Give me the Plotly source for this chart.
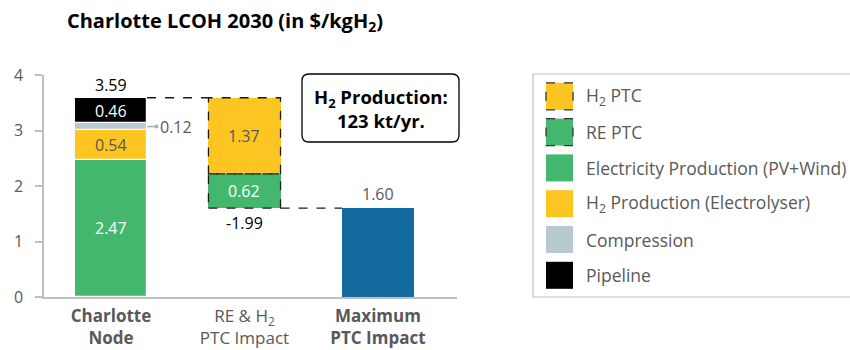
import plotly.graph_objects as go

# ---- data -------------------------------------------------------------
tick_labels = ["<b>Charlotte<br>Node</b>", "RE & H<sub>2</sub><br>PTC Impact", "<b>Maximum<br>PTC Impact</b>"]

node_components = ["Electricity Production (PV+Wind)", "H<sub>2</sub> Production (Electrolyser)",
                   "Compression", "Pipeline"]
node_values = [2.47, 0.54, 0.12, 0.46]

ptc_components = ["RE PTC", "H<sub>2</sub> PTC"]
ptc_values = [0.62, 1.37]

legend_labels = ["H<sub>2</sub> PTC", "RE PTC", "Electricity Production (PV+Wind)",
                 "H<sub>2</sub> Production (Electrolyser)", "Compression", "Pipeline"]

production_note = "H<sub>2</sub> Production:<br>123 kt/yr."

# ---- styling ----------------------------------------------------------
GREEN = "#43B76E"
YELLOW = "#FDC521"
GREY = "#B8C9CF"
BLACK = "#000000"
BLUE = "#136A9F"
TEXT = "#595959"
FONT = "Open Sans"

node_colors = [GREEN, YELLOW, GREY, BLACK]
node_text_colors = ["white", TEXT, None, "white"]
ptc_colors = [GREEN, YELLOW]
ptc_text_colors = ["white", TEXT]

BAR_W = 0.54
HALF = BAR_W / 2

total = sum(node_values)
impact = sum(ptc_values)
max_ptc = total - impact

# plot-area geometry in pixels (used to place paper-referenced items)
L, R, T, B = 44, 457, 75, 297
W, H = 850, 350


def px(x):
    return (x - L) / (R - L)


def py(y):
    return (B - y) / (B - T)


fig = go.Figure()
shapes = []
annotations = []

# Charlotte node stacked bar
base = 0.0
for name, v, c, tc in zip(node_components, node_values, node_colors, node_text_colors):
    fig.add_trace(go.Bar(x=[0], y=[v], base=[base], width=BAR_W, name=name,
                         marker=dict(color=c, line=dict(color="white", width=1.2)),
                         showlegend=False, hoverinfo="skip"))
    if tc is not None:
        annotations.append(dict(x=0, y=base + v / 2, text=f"{v:.2f}", showarrow=False,
                                font=dict(size=16, color=tc, family=FONT)))
    else:
        mid = base + v / 2
        shapes.append(dict(type="line", xref="x", yref="y", x0=HALF, x1=HALF + 0.07,
                           y0=mid, y1=mid, line=dict(color="#9FB3BA", width=1.5)))
        fig.add_trace(go.Scatter(x=[HALF + 0.07], y=[mid], mode="markers",
                                 marker=dict(size=4, color="#9FB3BA"),
                                 showlegend=False, hoverinfo="skip", cliponaxis=False))
        annotations.append(dict(x=HALF + 0.085, y=mid, text=f"{v:.2f}", showarrow=False,
                                xanchor="left", font=dict(size=16, color=TEXT, family=FONT)))
    base += v

annotations.append(dict(x=0, y=total, text=f"{total:.2f}", showarrow=False, yanchor="bottom",
                        yshift=0, font=dict(size=16, color="black", family=FONT)))

# PTC impact floating bar
base = max_ptc
for name, v, c, tc in zip(ptc_components, ptc_values, ptc_colors, ptc_text_colors):
    fig.add_trace(go.Bar(x=[1], y=[v], base=[base], width=BAR_W, name=name,
                         marker=dict(color=c, line=dict(width=0)),
                         showlegend=False, hoverinfo="skip"))
    shapes.append(dict(type="rect", xref="x", yref="y", x0=1 - HALF, x1=1 + HALF,
                       y0=base, y1=base + v, line=dict(color="#1a1a1a", width=1.3, dash="dash"),
                       layer="above"))
    annotations.append(dict(x=1, y=base + v / 2, text=f"{v:.2f}", showarrow=False,
                            font=dict(size=16, color=tc, family=FONT)))
    base += v

annotations.append(dict(x=1, y=max_ptc, text=f"-{impact:.2f}", showarrow=False, yanchor="top",
                        yshift=-2, font=dict(size=16, color="black", family=FONT)))

# Maximum PTC impact bar
fig.add_trace(go.Bar(x=[2], y=[max_ptc], width=BAR_W, marker=dict(color=BLUE, line=dict(width=0)),
                     showlegend=False, hoverinfo="skip"))
annotations.append(dict(x=2, y=max_ptc, text=f"{max_ptc:.2f}", showarrow=False, yanchor="bottom",
                        yshift=1, font=dict(size=16, color=TEXT, family=FONT)))

# dashed connectors
shapes.append(dict(type="line", xref="x", yref="y", x0=HALF, x1=1 - HALF, y0=total, y1=total,
                   line=dict(color="#1a1a1a", width=1.3, dash="dash")))
shapes.append(dict(type="line", xref="x", yref="y", x0=1 + HALF, x1=2 - HALF, y0=max_ptc, y1=max_ptc,
                   line=dict(color="#1a1a1a", width=1.3, dash="dash")))


# rounded box with production note
def rounded_rect(x0, y0, x1, y1, r):
    rx, ry = r / (R - L), r / (B - T)
    a0, a1, b0, b1 = px(x0), px(x1), py(y1), py(y0)
    return (f"M {a0 + rx},{b0} L {a1 - rx},{b0} Q {a1},{b0} {a1},{b0 + ry} "
            f"L {a1},{b1 - ry} Q {a1},{b1} {a1 - rx},{b1} L {a0 + rx},{b1} "
            f"Q {a0},{b1} {a0},{b1 - ry} L {a0},{b0 + ry} Q {a0},{b0} {a0 + rx},{b0} Z")


shapes.append(dict(type="path", xref="paper", yref="paper", path=rounded_rect(302, 74, 459, 142, 7),
                   line=dict(color="black", width=1.3), fillcolor="white"))
annotations.append(dict(xref="paper", yref="paper", x=px(381), y=py(108), text=f"<b>{production_note}</b>",
                        showarrow=False, xanchor="center", yanchor="middle",
                        font=dict(size=18.5, color="black", family=FONT), align="center"))

# legend drawn as swatches and labels
shapes.append(dict(type="rect", xref="paper", yref="paper", x0=px(533), x1=px(860), y0=py(297), y1=py(74),
                   line=dict(color="#BFBFBF", width=1.2), fillcolor="rgba(0,0,0,0)"))
legend_colors = [YELLOW, GREEN, GREEN, YELLOW, GREY, BLACK]
legend_dashed = [True, True, False, False, False, False]
for i, (lab, c, d) in enumerate(zip(legend_labels, legend_colors, legend_dashed)):
    cy = 96.3 + i * 35.8
    line = dict(color="#333333", width=1.3, dash="dash") if d else dict(width=0)
    shapes.append(dict(type="rect", xref="paper", yref="paper", x0=px(546), x1=px(573),
                       y0=py(cy + 13.5), y1=py(cy - 13.5), fillcolor=c, line=line))
    annotations.append(dict(xref="paper", yref="paper", x=px(584), y=py(cy), text=lab, showarrow=False,
                            xanchor="left", yanchor="middle",
                            font=dict(size=17.5, color=TEXT, family=FONT)))

fig.update_layout(
    width=W, height=H,
    margin=dict(l=L, r=W - R, t=T, b=H - B, autoexpand=False),
    paper_bgcolor="white", plot_bgcolor="white",
    barmode="overlay",
    bargap=0,
    title=dict(text="<b>Charlotte LCOH 2030 (in $/kgH<sub>2</sub>)</b>", x=225 / W, xref="container",
               xanchor="center", y=1 - 21 / H, yanchor="middle", yref="container",
               font=dict(size=20, color="black", family=FONT)),
    xaxis=dict(range=[-0.502, 2.592], tickvals=[0, 1, 2], ticktext=tick_labels, automargin=False,
               showline=True, linecolor="#BFBFBF", linewidth=1.5, ticks="", showgrid=False,
               ticklabelstandoff=3,
               zeroline=False, tickfont=dict(size=17, color=TEXT, family=FONT), fixedrange=True),
    yaxis=dict(range=[0, 4], tickvals=[0, 1, 2, 3, 4], showline=True, linecolor="#BFBFBF", automargin=False,
               linewidth=1.5, ticks="outside", ticklen=7, tickcolor="#BFBFBF", tickwidth=1.5,
               ticklabelstandoff=9,
               showgrid=False, zeroline=False, tickfont=dict(size=16, color=TEXT, family=FONT),
               fixedrange=True),
    shapes=shapes,
    annotations=annotations,
    showlegend=False,
)

fig.write_html("out.html")
